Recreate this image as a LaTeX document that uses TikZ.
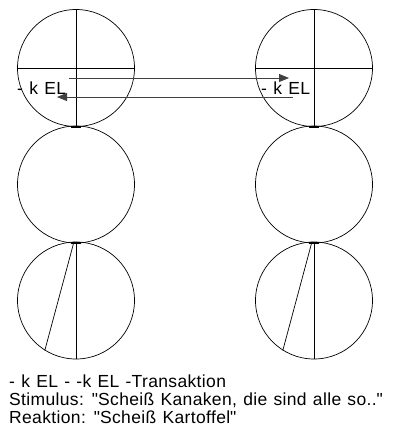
\documentclass[tikz,border=0pt]{standalone}
\usepackage{fontspec}
\setmainfont{Liberation Sans}
\newfontfamily\capfont[LetterSpace=2, WordSpace=1.2]{Liberation Sans}
\usetikzlibrary{arrows.meta, positioning}

\begin{document}
\begin{tikzpicture}[x=1pt, y=-1pt,
  ego/.style={draw, circle, inner sep=0pt, minimum size=117pt, line width=0.7pt},
  joint/.style={line width=2pt},
  txt/.style={font=\capfont\fontsize{17.5}{18}\selectfont, inner sep=0pt}]
\useasboundingbox (0,0) rectangle (392,432);

% Left person
\node[ego] (L1) at (76,68) {};
\node[ego] (L2) at (76,184.5) {};
\node[ego] (L3) at (76,300.5) {};

% Right person
\node[ego] (R1) at (314,68) {};
\node[ego] (R2) at (314,184.5) {};
\node[ego] (R3) at (314,300.5) {};

% Inner lines
\draw[line width=0.7pt] (L1.north) -- (L1.south);
\draw[line width=0.7pt] (L1.west) -- (L1.east);
\draw[line width=0.7pt] (R1.north) -- (R1.south);
\draw[line width=0.7pt] (R1.west) -- (R1.east);
\draw[line width=0.7pt] (L3.north) -- (L3.south);
\draw[line width=0.7pt] ([xshift=-2pt]L3.north) -- (L3.238);
\draw[line width=0.7pt] (R3.north) -- (R3.south);
\draw[line width=0.7pt] ([xshift=-2pt]R3.north) -- (R3.238);

% Joints between the circles
\draw[joint] ([xshift=-5pt]L1.south) -- ([xshift=5pt]L1.south);
\draw[joint] ([xshift=-5pt]L2.south) -- ([xshift=5pt]L2.south);
\draw[joint] ([xshift=-5pt]R1.south) -- ([xshift=5pt]R1.south);
\draw[joint] ([xshift=-5pt]R2.south) -- ([xshift=5pt]R2.south);

% Labels
\node[txt, anchor=west] (labL) at (17,88) {- k EL};
\node[txt, anchor=west] (labR) at (261,88) {- k EL};

% Transaction arrows
\coordinate (s1) at (69,78);
\coordinate (e1) at (289,78);
\coordinate (s2) at (293,97);
\coordinate (e2) at (57,97);
\draw[-{Triangle[length=10pt, width=8pt]}, line width=0.8pt, black!75] (s1) -- (e1);
\draw[-{Triangle[length=10pt, width=8pt]}, line width=0.8pt, black!75] (s2) -- (e2);

% Caption
\node[txt, anchor=base west] (t1) at (9,387) {- k EL - -k EL -Transaktion};
\node[txt, anchor=base west] (t2) at (9,405) {Stimulus: \textquotedbl Scheiß Kanaken, die sind alle so..\textquotedbl};
\node[txt, anchor=base west] (t3) at (9,423) {Reaktion: \textquotedbl Scheiß Kartoffel\textquotedbl};
\end{tikzpicture}
\end{document}
